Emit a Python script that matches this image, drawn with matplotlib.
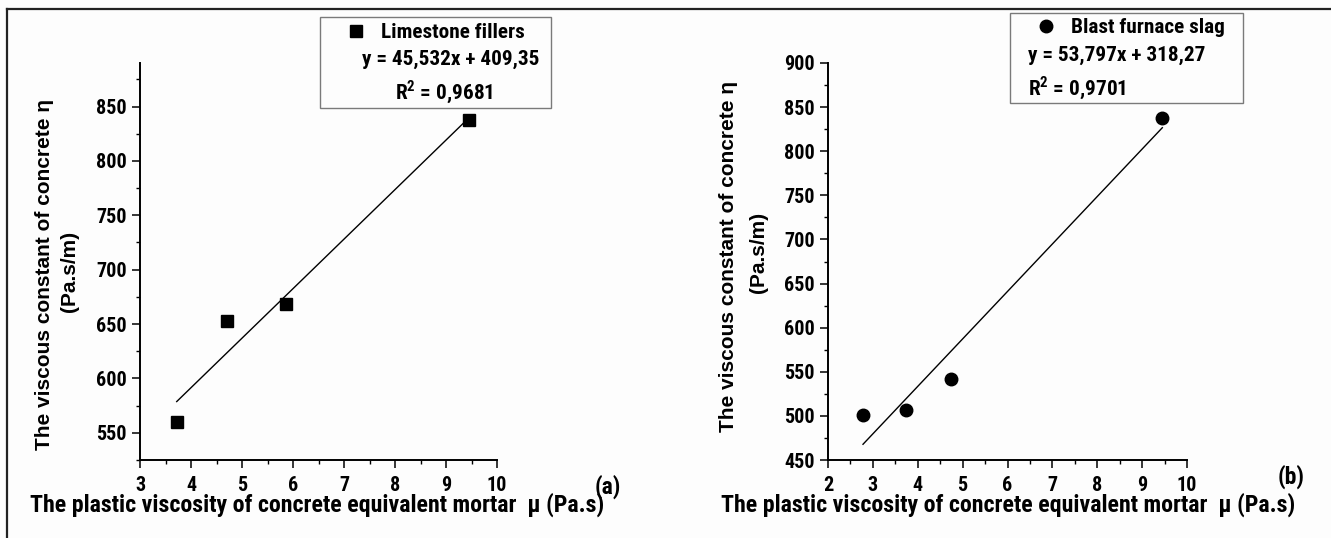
import matplotlib
matplotlib.use("Agg")
import matplotlib.pyplot as plt
from matplotlib.patches import Rectangle
from matplotlib.lines import Line2D
from matplotlib.ticker import MultipleLocator
import numpy as np

# ---- data -------------------------------------------------------------
lime_mu = [3.72, 4.70, 5.87, 9.45]
lime_eta = [560, 653, 668, 838]
lime_slope, lime_icpt = 45.532, 409.35
lime_r2 = "0,9681"

slag_mu = [2.78, 3.73, 4.75, 9.45]
slag_eta = [501, 507, 542, 838]
slag_slope, slag_icpt = 53.797, 318.27
slag_r2 = "0,9701"

lime_label = "Limestone fillers"
slag_label = "Blast furnace slag"
x_label = "The plastic viscosity of concrete equivalent mortar  \u03bc (Pa.s)"
y_label = "The viscous constant of concrete \u03b7"
y_unit = "(Pa.s/m)"

# ---- style ------------------------------------------------------------
W, H = 1331, 538
NARROW = ["Roboto Condensed", "Liberation Sans", "DejaVu Sans"]
WIDE = ["Liberation Sans", "DejaVu Sans"]
plt.rcParams.update({
    "font.family": NARROW,
    "font.weight": "bold",
    "mathtext.fontset": "custom",
    "mathtext.rm": "Roboto Condensed:bold",
    "mathtext.bf": "Roboto Condensed:bold",
})

fig = plt.figure(figsize=(W / 100, H / 100), dpi=100, facecolor="#fdfdfd")


def fx(px):
    return px / W


def fy(py):
    return 1 - py / H


def make_axes(left_px, right_px, top_px, bottom_px):
    ax = fig.add_axes([fx(left_px), fy(bottom_px),
                       (right_px - left_px) / W, (bottom_px - top_px) / H])
    ax.set_facecolor("none")
    for s in ("top", "right"):
        ax.spines[s].set_visible(False)
    for s in ("left", "bottom"):
        ax.spines[s].set_linewidth(1.4)
    ax.tick_params(which="major", direction="out", length=5.5, width=1.1)
    ax.tick_params(which="minor", direction="out", length=3, width=1.0)
    ax.tick_params(axis="x", which="major", pad=6)
    ax.tick_params(axis="y", which="major", pad=4)
    ax.xaxis.set_major_locator(MultipleLocator(1))
    ax.xaxis.set_minor_locator(MultipleLocator(0.5))
    ax.yaxis.set_major_locator(MultipleLocator(50))
    ax.yaxis.set_minor_locator(MultipleLocator(25))
    return ax


def fit_line(ax, xs, slope, icpt):
    xx = np.array([min(xs), max(xs)])
    ax.plot(xx, slope * xx + icpt, color="black", lw=1.0, zorder=2)


# ---- panel (a): limestone fillers --------------------------------------
ax1 = make_axes(140, 497, 63, 460)
ax1.set_xlim(3, 10)
ax1.set_ylim(525, 890)
fit_line(ax1, lime_mu, lime_slope, lime_icpt)
sc1, = ax1.plot(lime_mu, lime_eta, ls="none", marker="s", ms=8,
                color="black", zorder=3)

# ---- panel (b): blast furnace slag -------------------------------------
ax2 = make_axes(828, 1187, 63, 460)
ax2.set_xlim(2, 10)
ax2.set_ylim(450, 900)
fit_line(ax2, slag_mu, slag_slope, slag_icpt)
sc2, = ax2.plot(slag_mu, slag_eta, ls="none", marker="o", ms=9,
                color="black", zorder=3)

for ax in (ax1, ax2):
    for lab in ax.get_xticklabels() + ax.get_yticklabels():
        lab.set_fontweight("bold")
        lab.set_fontsize(14.5)

# ---- axis titles --------------------------------------------------------
XL_SIZE = 17.2
YL_SIZE = 15
fig.text(fx(317), fy(505), x_label, ha="center", va="center",
         fontsize=XL_SIZE, fontweight="bold")
fig.text(fx(1008), fy(505), x_label, ha="center", va="center",
         fontsize=XL_SIZE, fontweight="bold")

for xm, ym, xu, yu in ((45, 274, 70, 271), (729, 256, 758, 252)):
    fig.text(fx(xm), fy(ym), y_label, rotation=90, ha="center", va="center",
             fontsize=YL_SIZE, fontweight="bold", family=WIDE)
    fig.text(fx(xu), fy(yu), y_unit, rotation=90, ha="center", va="center",
             fontsize=YL_SIZE, fontweight="bold", family=WIDE)

fig.text(fx(608), fy(487), "(a)", ha="center", va="center",
         fontsize=17, fontweight="bold")
fig.text(fx(1291), fy(477), "(b)", ha="center", va="center",
         fontsize=17, fontweight="bold")

# ---- legend boxes with regression equations -----------------------------
LEG_SIZE = 15.3


def legend_box(x0, y0, x1, y1):
    fig.patches.append(Rectangle((fx(x0), fy(y1)), (x1 - x0) / W, (y1 - y0) / H,
                                 transform=fig.transFigure, fill=False,
                                 edgecolor="#7a7a7a", lw=1.0))


legend_box(320, 17, 551, 108)
fig.legend([sc1], [lime_label], loc="center left",
           bbox_to_anchor=(fx(345), fy(33)), frameon=False, borderpad=0,
           borderaxespad=0, handlelength=1.0, handletextpad=0.7,
           prop={"size": LEG_SIZE, "weight": "bold", "family": NARROW})
fig.text(fx(451), fy(59),
         f"y = {lime_slope:.3f}x + {lime_icpt:.2f}".replace(".", ","),
         ha="center", va="center", fontsize=LEG_SIZE, fontweight="bold")
fig.text(fx(444), fy(92), r"R$^{\mathbf{2}}$ = " + lime_r2,
         ha="center", va="center", fontsize=LEG_SIZE, fontweight="bold")

legend_box(1010, 13, 1243, 103)
fig.legend([sc2], [slag_label], loc="center left",
           bbox_to_anchor=(fx(1035), fy(28)), frameon=False, borderpad=0,
           borderaxespad=0, handlelength=1.0, handletextpad=0.7,
           prop={"size": LEG_SIZE, "weight": "bold", "family": NARROW})
fig.text(fx(1028), fy(55),
         f"y = {slag_slope:.3f}x + {slag_icpt:.2f}".replace(".", ","),
         ha="left", va="center", fontsize=LEG_SIZE, fontweight="bold")
fig.text(fx(1028), fy(88), r"R$^{\mathbf{2}}$ = " + slag_r2,
         ha="left", va="center", fontsize=LEG_SIZE, fontweight="bold")

# ---- outer frame (top and left edges) ------------------------------------
fig.add_artist(Line2D([fx(6.5), 1.0], [fy(9), fy(9)], transform=fig.transFigure,
                      color="#222222", lw=1.6))
fig.add_artist(Line2D([fx(6.5), fx(6.5)], [fy(9), 0.0], transform=fig.transFigure,
                      color="#222222", lw=1.6))

fig.savefig("out.png", dpi=100, facecolor=fig.get_facecolor())
